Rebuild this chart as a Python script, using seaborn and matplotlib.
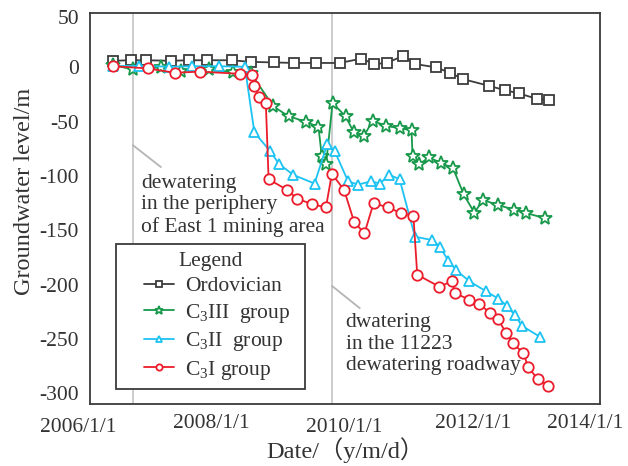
import numpy as np
import pandas as pd
import matplotlib
matplotlib.use("Agg")
import matplotlib.pyplot as plt
from matplotlib.transforms import ScaledTranslation
from matplotlib.legend_handler import HandlerLine2D
import seaborn as sns

# ---------------- data ----------------
ord_dates = ["2006-04-25", "2006-08-03", "2006-11-01", "2007-03-25", "2007-07-09",
             "2007-10-20", "2008-03-09", "2008-06-26", "2008-11-07", "2009-03-04",
             "2009-07-11", "2009-11-22", "2010-03-28", "2010-06-10", "2010-08-21",
             "2010-11-23", "2011-02-01", "2011-06-01", "2011-08-20", "2011-11-07",
             "2012-04-01", "2012-07-01", "2012-09-22", "2013-01-02", "2013-03-12"]
ord_vals = [6, 6.5, 6.5, 6, 6.5, 6.5, 6.5, 5, 4.5, 4, 4, 4, 8, 3, 4, 10.5, 3, 0,
            -5, -11, -17, -21, -24, -29, -30]

c3iii_dates = ["2006-04-25", "2006-08-18", "2007-01-27", "2007-05-22", "2007-10-28",
               "2008-03-16", "2008-06-28", "2008-11-04", "2009-01-31", "2009-05-09",
               "2009-07-23", "2009-08-11", "2009-09-05", "2009-10-12", "2009-12-26",
               "2010-02-12", "2010-04-12", "2010-06-01", "2010-08-15", "2010-11-06",
               "2011-01-11", "2011-01-17", "2011-02-26", "2011-04-22", "2011-06-30",
               "2011-09-08", "2011-11-08", "2012-01-09", "2012-02-27", "2012-05-26",
               "2012-08-27", "2012-10-30", "2013-02-20"]
c3iii_vals = [2, -2, 0, -3, -2, -4.5, -5.5, -36, -45, -50, -55, -82, -89, -33, -45,
              -60, -63, -49, -54, -56, -58, -82, -89, -83, -88, -93, -117, -134,
              -122, -127, -131, -134, -139]

c3ii_dates = ["2006-04-25", "2006-09-20", "2007-03-12", "2007-07-26", "2007-12-26",
              "2008-05-24", "2008-07-18", "2008-10-16", "2008-12-07", "2009-02-27",
              "2009-06-30", "2009-09-11", "2009-10-24", "2010-01-10", "2010-03-08",
              "2010-05-22", "2010-07-13", "2010-09-05", "2010-11-03", "2011-01-31",
              "2011-05-08", "2011-06-23", "2011-08-11", "2011-09-27", "2011-12-11",
              "2012-03-14", "2012-05-26", "2012-07-17", "2012-08-29", "2012-10-09",
              "2013-01-20"]
c3ii_vals = [1, 1.5, 0.5, 1, 1, 0.5, -60, -77, -89, -99, -107, -71, -77, -105, -108,
             -105, -107, -99, -103, -156, -159, -165, -178, -187, -197, -206, -213,
             -220, -228, -238, -248]

c3i_dates = ["2006-04-25", "2006-11-09", "2007-04-16", "2007-09-09", "2008-04-27",
             "2008-07-07", "2008-07-13", "2008-08-13", "2008-09-22", "2008-10-08",
             "2009-01-24", "2009-03-22", "2009-06-17", "2009-09-04", "2009-10-08",
             "2009-12-18", "2010-02-13", "2010-04-14", "2010-06-06", "2010-08-26",
             "2010-11-09", "2011-01-22", "2011-02-13", "2011-06-21", "2011-08-31",
             "2011-09-21", "2011-12-11", "2012-02-07", "2012-04-07", "2012-05-24",
             "2012-07-12", "2012-08-16", "2012-10-18", "2012-11-14", "2013-01-08",
             "2013-03-11"]
c3i_vals = [1, -1, -5, -4, -6, -7, -17, -27, -33, -103, -113, -121, -126, -129, -98,
            -113, -142, -153, -125, -129, -134, -137, -191, -202, -197, -208, -214,
            -218, -226, -232, -245, -254, -263, -276, -287, -293]

series_names = ["Ordovician", "C$_3$III  group", "C$_3$II  group", "C$_3$I group"]
series_colors = ["#3c3c3c", "#17984a", "#1cc3f2", "#ec1c2a"]
series_markers = ["s", "*", "^", "o"]

event_dates = ["2006-08-15", "2009-10-08"]
x_ticks = ["2006-01-01", "2008-01-01", "2010-01-01", "2012-01-01", "2014-01-01"]
x_ticklabels = ["2006/1/1", "2008/1/1", "2010/1/1", "2012/1/1", "2014/1/1"]
y_ticks = [50, 0, -50, -100, -150, -200, -250, -300]

# ---------------- style ----------------
sns.set_theme(style="white")
plt.rcParams["font.family"] = ["Liberation Serif", "Noto Sans CJK SC", "DejaVu Sans"]
plt.rcParams["mathtext.fontset"] = "custom"
plt.rcParams["mathtext.rm"] = "Liberation Serif"
plt.rcParams["mathtext.it"] = "Liberation Serif:italic"
plt.rcParams["mathtext.bf"] = "Liberation Serif:bold"
TXT = "#333333"
FS = 15.5
FS_LAB = 17.5

fig = plt.figure(figsize=(6.28, 4.66), dpi=100)
ax = fig.add_axes([90 / 628, (466 - 404) / 466, 510 / 628, 391 / 466])

for d in event_dates:
    ax.axvline(pd.Timestamp(d), color="#c8c8c8", lw=1.3, zorder=0)

all_series = [(ord_dates, ord_vals), (c3iii_dates, c3iii_vals),
              (c3ii_dates, c3ii_vals), (c3i_dates, c3i_vals)]
msizes = [7.5, 10.5, 7.5, 7.5]
for (dts, vals), name, col, mk, ms in zip(all_series, series_names, series_colors,
                                          series_markers, msizes):
    df = pd.DataFrame({"date": pd.to_datetime(dts), "level": vals})
    sns.lineplot(data=df, x="date", y="level", ax=ax, sort=False, color=col,
                 marker=mk, markersize=ms, markerfacecolor="white",
                 markeredgecolor=col, markeredgewidth=1.3, lw=1.3, label=name,
                 legend=False, zorder=3)

ax.set_xlim(pd.Timestamp("2005-12-12"), pd.Timestamp("2014-01-03"))
ax.set_ylim(-310, 50)
ax.set_xticks([pd.Timestamp(t) for t in x_ticks])
ax.set_xticklabels(x_ticklabels)
ax.set_yticks(y_ticks)
ax.set_yticklabels([str(v) for v in y_ticks])

ax.tick_params(axis="both", direction="in", length=8, width=1.2, colors="#333333",
               labelsize=FS, labelcolor=TXT)
ax.tick_params(axis="y", pad=8)
ax.tick_params(axis="x", pad=7)
for sp in ax.spines.values():
    sp.set_color("#3a3a3a")
    sp.set_linewidth(1.3)

ax.set_xlabel("Date/（y/m/d）", fontsize=FS_LAB, color=TXT, labelpad=0)
ax.set_ylabel("Groundwater level/m", fontsize=FS_LAB, color=TXT)
ax.yaxis.set_label_coords(-0.108, 0.545)

# nudge tick labels like the reference
x_offsets = [(-15, 4), (-9, 0), (-2, 4), (0, 0), (-15, 0)]
for lab, (dx, dy) in zip(ax.get_xticklabels(), x_offsets):
    lab.set_transform(lab.get_transform() + ScaledTranslation(dx / 100, -dy / 100, fig.dpi_scale_trans))
for lab, v in zip(ax.get_yticklabels(), y_ticks):
    if v == 50:
        lab.set_transform(lab.get_transform() + ScaledTranslation(0, -4 / 100, fig.dpi_scale_trans))

# annotations
ax.plot([0.084, 0.139], [0.662, 0.606], transform=ax.transAxes, color="#b4b4b4", lw=1.3)
ax.plot([0.4745, 0.529], [0.302, 0.245], transform=ax.transAxes, color="#b4b4b4", lw=1.3)
ax.text(0.10, 0.508, "dewatering\nin the periphery\nof East 1 mining area",
        transform=ax.transAxes, fontsize=FS, color=TXT, va="center", ha="left",
        linespacing=1.2)
ax.text(0.501, 0.153, "dwatering\nin the 11223\ndewatering roadway",
        transform=ax.transAxes, fontsize=FS, color=TXT, va="center", ha="left",
        linespacing=1.2)

handles, labels = ax.get_legend_handles_labels()
leg = ax.legend(handles, labels, title="Legend", loc="lower left",
                bbox_to_anchor=(0.051, 0.038, 0.3706, 0.1), mode="expand",
                borderaxespad=0, fontsize=FS, title_fontsize=FS, frameon=True,
                fancybox=False, framealpha=1, edgecolor="#3a3a3a", markerscale=0.6,
                handlelength=2.35, handletextpad=0.5, labelspacing=0.25,
                borderpad=0.35,
                handler_map={h: HandlerLine2D(xpad=0.95) for h in handles})
leg.get_frame().set_linewidth(1.3)
leg.get_title().set_color(TXT)
for t in leg.get_texts():
    t.set_color(TXT)

fig.savefig("out.png", dpi=100)
